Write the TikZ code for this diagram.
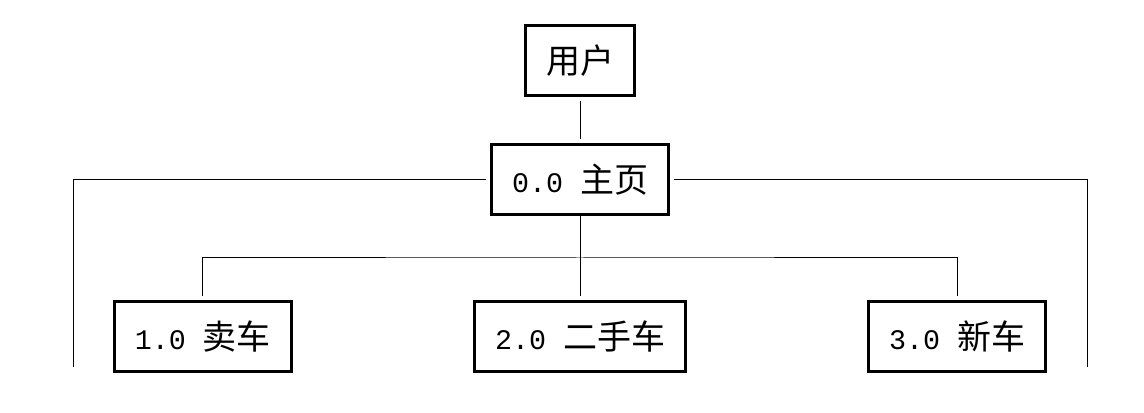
\documentclass[tikz,border=0pt]{standalone}
\usepackage{fontspec}
\setmainfont{Liberation Mono}[Scale=0.8333]
\newfontfamily\cjk{Noto Sans CJK SC}
\usepackage{tikz}
\usetikzlibrary{positioning,calc}
\tikzset{
  module/.style={rectangle,draw=black,line width=1.5pt,fill=white,
    inner xsep=10.25pt,inner ysep=2pt,minimum height=35pt,
    font=\fontsize{17pt}{20pt}\selectfont},
  link/.style={line width=0.5pt,draw=black}
}

\begin{document}
\begin{tikzpicture}
\useasboundingbox (0,0) rectangle (572pt,206pt);
\node[module] (home) at (290pt,116.25pt) {0.0 {\cjk 主页}};
\node[module,above=23pt of home] (user) {{\cjk 用户}};
\node[module,below=42pt of home] (used) {2.0 {\cjk 二手车}};
\node[module,left=90pt of used] (sell) {1.0 {\cjk 卖车}};
\node[module,right=90pt of used] (newcar) {3.0 {\cjk 新车}};
\coordinate (bus) at ($(home.south)!0.5!(used.north)$);
\coordinate (lend) at (36.5pt,22.5pt);
\coordinate (rend) at (543.5pt,22.5pt);
\draw[link,shorten <=2pt,shorten >=2pt] (user) -- (home);
\draw[link,shorten <=2pt] (home) -| (lend);
\draw[link,shorten <=2pt] (home) -| (rend);
\draw[link,shorten >=2pt] (home) -- (used);
\draw[link,shorten <=2pt,shorten >=2pt] (sell) |- (bus) -| (newcar);
\end{tikzpicture}
\end{document}
